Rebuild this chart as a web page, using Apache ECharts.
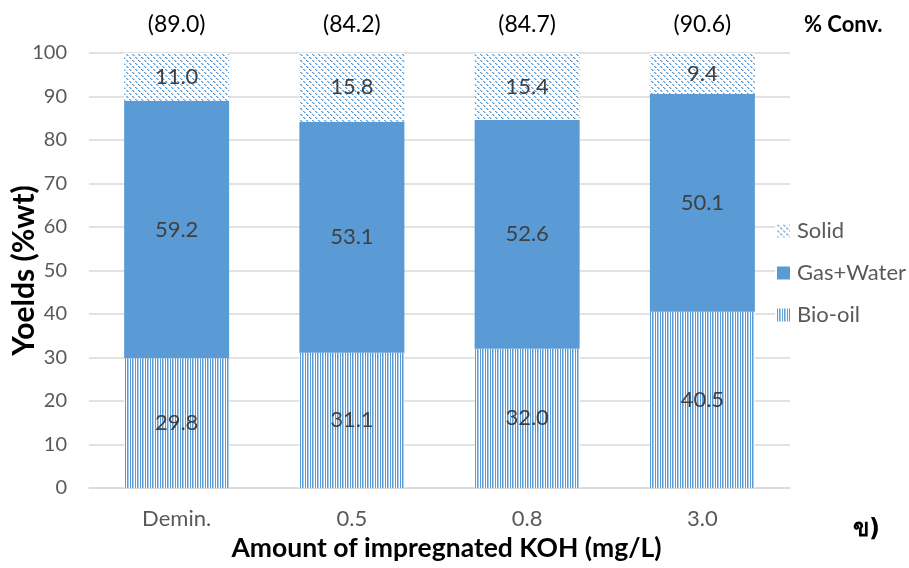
<!DOCTYPE html>
<html>
<head>
<meta charset="utf-8">
<script src="https://cdn.jsdelivr.net/npm/echarts@6/dist/echarts.min.js"></script>
<style>html,body{margin:0;padding:0;background:#fff;}#c{width:909px;height:568px;}</style>
</head>
<body>
<div id="c"></div>
<script>
var categories = ['Demin.', '0.5', '0.8', '3.0'];
var bioOil = [29.8, 31.1, 32.0, 40.5];
var gasWater = [59.2, 53.1, 52.6, 50.1];
var solid = [11.0, 15.8, 15.4, 9.4];
var conversion = [89.0, 84.2, 84.7, 90.6];
var yTicks = [0, 10, 20, 30, 40, 50, 60, 70, 80, 90, 100];

var BLUE = '#5B9BD5';
var LIGHT = '#A9CBEB';
var FONT = 'Lato';

function makeTile(w, h, draw) {
  var c = document.createElement('canvas');
  c.width = w; c.height = h;
  var ctx = c.getContext('2d');
  ctx.fillStyle = '#fff';
  ctx.fillRect(0, 0, w, h);
  draw(ctx);
  return c;
}
var vertTile = makeTile(5, 4, function (ctx) {
  ctx.fillStyle = BLUE; ctx.fillRect(0, 0, 1, 4); ctx.fillRect(2, 0, 1, 4);
  ctx.fillStyle = LIGHT; ctx.fillRect(3, 0, 1, 4);
});
var diagTile = makeTile(6, 6, function (ctx) {
  [0, 1, 3, 4].forEach(function (i) {
    ctx.fillStyle = BLUE; ctx.fillRect(i, i, 1, 1);
    ctx.fillStyle = LIGHT; ctx.fillRect((i + 1) % 6, i, 1, 1);
  });
});
var vertPattern = { image: vertTile, repeat: 'repeat' };
var diagPattern = { image: diagTile, repeat: 'repeat' };

var labelStyle = {
  show: true,
  position: 'inside',
  fontFamily: FONT,
  fontSize: 22,
  color: '#404040',
  formatter: function (p) { return p.value.toFixed(1); }
};

var chart = echarts.init(document.getElementById('c'), null, { renderer: 'canvas' });
chart.setOption({
  animation: false,
  backgroundColor: '#fff',
  textStyle: { fontFamily: FONT },
  grid: { left: 89, right: 119, top: 53, bottom: 80, containLabel: false, outerBoundsMode: 'none' },
  legend: {
    orient: 'vertical',
    left: 775,
    top: 214,
    data: ['Solid', 'Gas+Water', 'Bio-oil'],
    itemWidth: 13,
    itemHeight: 13,
    itemGap: 20,
    padding: [6, 4, 6, 2],
    backgroundColor: '#fff',
    icon: 'rect',
    textStyle: { fontFamily: FONT, fontSize: 22, color: '#595959', padding: [0, 0, 0, 2] }
  },
  xAxis: [{
    type: 'category',
    data: categories,
    axisLine: { lineStyle: { color: '#D9D9D9', width: 1.5 } },
    axisTick: { show: false },
    axisLabel: { fontFamily: FONT, fontSize: 22, color: '#595959', margin: 20 },
    name: 'Amount of impregnated KOH (mg/L)',
    nameLocation: 'middle',
    nameGap: 47,
    nameMoveOverlap: false,
    nameTextStyle: { fontFamily: FONT, fontSize: 26.5, fontWeight: 'bold', color: '#000', padding: [0, 0, 0, 14] }
  }, {
    type: 'category',
    position: 'top',
    data: conversion.map(function (v) { return '(' + v.toFixed(1) + ')'; }),
    axisLine: { show: false },
    axisTick: { show: false },
    axisLabel: { fontFamily: FONT, fontSize: 23, color: '#000', margin: 17 }
  }],
  yAxis: {
    type: 'value',
    min: yTicks[0],
    max: yTicks[yTicks.length - 1],
    interval: yTicks[1] - yTicks[0],
    axisLine: { show: false },
    axisTick: { show: false },
    splitLine: { lineStyle: { color: '#D9D9D9', width: 1.5 } },
    axisLabel: { fontFamily: FONT, fontSize: 20, color: '#595959', margin: 22 },
    name: 'Yoelds (%wt)',
    nameLocation: 'middle',
    nameGap: 50,
    nameMoveOverlap: false,
    nameTextStyle: { fontFamily: FONT, fontSize: 30, fontWeight: 'bold', color: '#000' }
  },
  series: [{
    name: 'Bio-oil', type: 'bar', stack: 'y', data: bioOil, barWidth: 105,
    itemStyle: { color: vertPattern }, label: labelStyle
  }, {
    name: 'Gas+Water', type: 'bar', stack: 'y', data: gasWater, barWidth: 105,
    itemStyle: { color: BLUE }, label: labelStyle
  }, {
    name: 'Solid', type: 'bar', stack: 'y', data: solid, barWidth: 105,
    itemStyle: { color: diagPattern }, label: labelStyle
  }],
  graphic: [{
    type: 'text', left: 804, top: 14,
    style: { text: '% Conv.', fontFamily: FONT, fontSize: 22, fontWeight: 'bold', fill: '#000' }
  }, {
    type: 'text', left: 853, top: 518,
    style: { text: 'ข)', fontFamily: 'DejaVu Sans, Noto Sans, sans-serif', fontSize: 24, fontWeight: 'bold', fill: '#000' }
  }]
});
</script>
</body>
</html>
